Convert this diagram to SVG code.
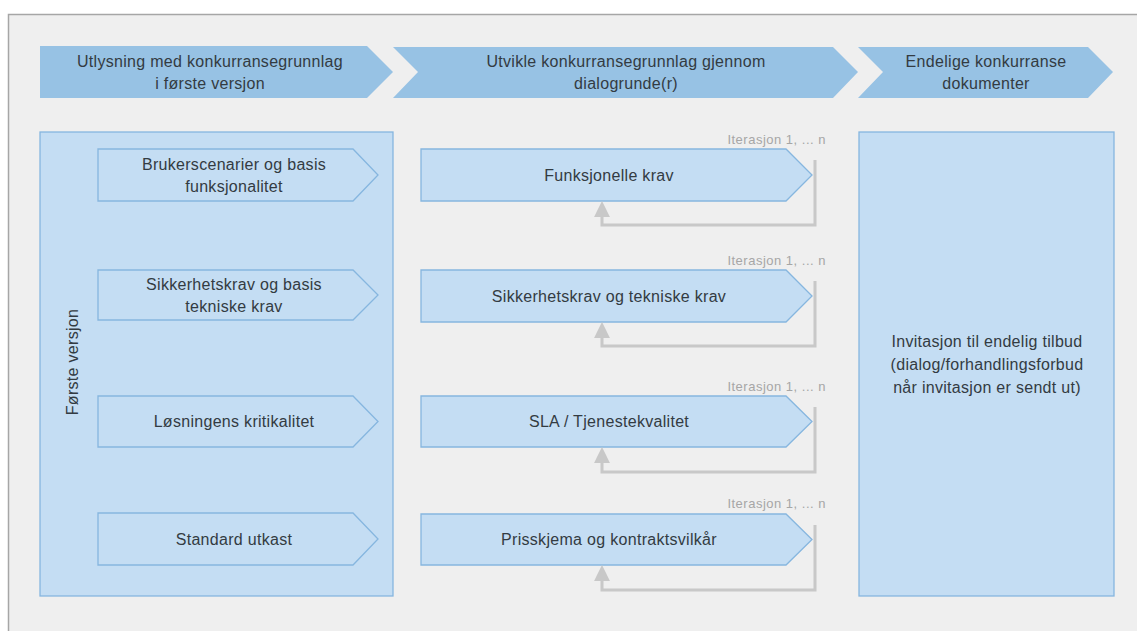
<svg xmlns="http://www.w3.org/2000/svg" width="1137" height="631" viewBox="0 0 1137 631">
<defs>
<style>
.hdr{fill:#97c2e4;}
.box{fill:#c4ddf3;stroke:#86b6df;stroke-width:1.3;}
.t{font-family:"Liberation Sans",Arial,sans-serif;font-size:16px;letter-spacing:0.3px;fill:#333b42;text-anchor:middle;}
.it{font-family:"Liberation Sans",Arial,sans-serif;font-size:13px;letter-spacing:0.5px;fill:#a6a6a6;text-anchor:end;}
.loop{fill:none;stroke:#c8c8c8;stroke-width:3;}
</style>
<marker id="ah" viewBox="0 0 10 10" refX="0" refY="5" markerWidth="5.3" markerHeight="5.3" markerUnits="strokeWidth" orient="auto">
<path d="M0,0 L10,5 L0,10 Z" fill="#c8c8c8"/>
</marker>
</defs>
<rect x="0" y="0" width="1137" height="631" fill="#ffffff"/>
<rect x="8.5" y="14.5" width="1140" height="630" fill="#efefef" stroke="#a6a6a6" stroke-width="1.5"/>

<g id="phase1">
<polygon class="hdr" points="40,46 367,46 393,72 367,98 40,98"/>
<text class="t" x="210" y="67">Utlysning med konkurransegrunnlag</text>
<text class="t" x="210" y="89">i første versjon</text>
</g>
<g id="phase2">
<polygon class="hdr" points="393,47 833,47 858,72 833,98 393,98 418,72"/>
<text class="t" x="626" y="67">Utvikle konkurransegrunnlag gjennom</text>
<text class="t" x="626" y="89">dialogrunde(r)</text>
</g>
<g id="phase3">
<polygon class="hdr" points="858,47 1088,47 1113,72 1088,98 858,98 883,72"/>
<text class="t" x="986" y="67">Endelige konkurranse</text>
<text class="t" x="986" y="89">dokumenter</text>
</g>

<g id="first-version">
<rect class="box" x="40" y="132" width="353" height="464"/>
<text class="t" transform="translate(78,362) rotate(-90)">Første versjon</text>
</g>
<g id="l1">
<polygon class="box" points="98,149 353,149 378,175 353,201 98,201"/>
<text class="t" x="234" y="170">Brukerscenarier og basis</text>
<text class="t" x="234" y="192">funksjonalitet</text>
</g>
<g id="l2">
<polygon class="box" points="98,270 353,270 378,295 353,320 98,320"/>
<text class="t" x="234" y="290">Sikkerhetskrav og basis</text>
<text class="t" x="234" y="312">tekniske krav</text>
</g>
<g id="l3">
<polygon class="box" points="98,396 353,396 378,421.5 353,447 98,447"/>
<text class="t" x="234" y="427">Løsningens kritikalitet</text>
</g>
<g id="l4">
<polygon class="box" points="98,513 353,513 378,539 353,565 98,565"/>
<text class="t" x="234" y="545">Standard utkast</text>
</g>

<g id="m1">
<polygon class="box" points="421,149 786,149 812,175 786,201 421,201"/>
<text class="t" x="609" y="181">Funksjonelle krav</text>
</g>
<g id="m2">
<polygon class="box" points="421,270 786,270 812,296 786,322 421,322"/>
<text class="t" x="609" y="302">Sikkerhetskrav og tekniske krav</text>
</g>
<g id="m3">
<polygon class="box" points="421,396 786,396 812,421.5 786,447 421,447"/>
<text class="t" x="609" y="427">SLA / Tjenestekvalitet</text>
</g>
<g id="m4">
<polygon class="box" points="421,514 786,514 812,539.5 786,565 421,565"/>
<text class="t" x="609" y="545">Prisskjema og kontraktsvilkår</text>
</g>

<g id="final">
<rect class="box" x="859" y="132" width="255" height="464"/>
<text class="t" x="987" y="347">Invitasjon til endelig tilbud</text>
<text class="t" x="987" y="370">(dialog/forhandlingsforbud</text>
<text class="t" x="987" y="393">når invitasjon er sendt ut)</text>
</g>

<g id="iter-labels">
<text class="it" x="826" y="144">Iterasjon 1, ... n</text>
<text class="it" x="826" y="265">Iterasjon 1, ... n</text>
<text class="it" x="826" y="391">Iterasjon 1, ... n</text>
<text class="it" x="826" y="508">Iterasjon 1, ... n</text>
</g>

<g id="connectors">
<path class="loop" marker-end="url(#ah)" d="M815,160 V225 H602 V217"/>
<path class="loop" marker-end="url(#ah)" d="M815,281 V346 H602 V338"/>
<path class="loop" marker-end="url(#ah)" d="M815,407 V472 H602 V463"/>
<path class="loop" marker-end="url(#ah)" d="M815,525 V590 H602 V581"/>
</g>
</svg>
